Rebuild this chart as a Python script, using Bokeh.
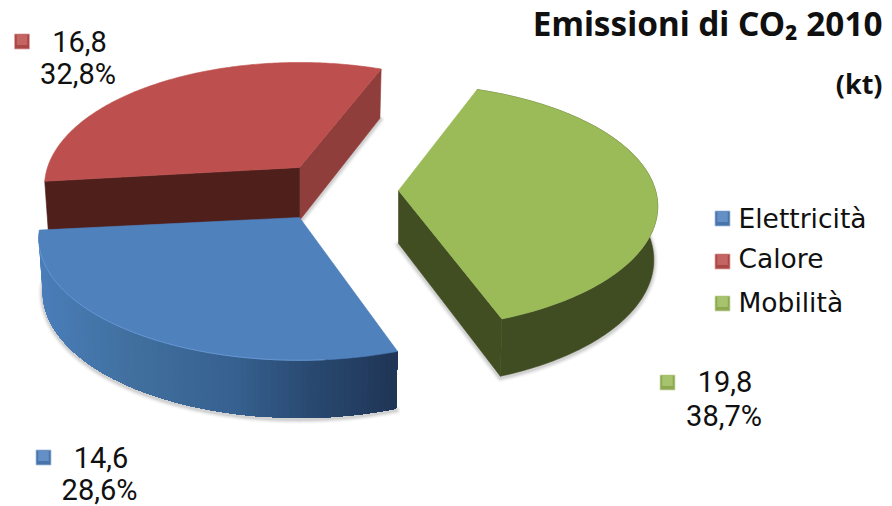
import numpy as np
from bokeh.core.properties import value
from bokeh.embed import file_html
from bokeh.models import Range1d
from bokeh.plotting import figure
from bokeh.resources import INLINE

# CO2 emissions by sector, 2010 (kt)
sectors = ["Elettricità", "Calore", "Mobilità"]
emissions = [14.6, 16.8, 19.8]
value_labels = ["14,6", "16,8", "19,8"]
share_labels = ["28,6%", "32,8%", "38,7%"]
title = "Emissioni di CO₂ 2010"
unit = "(kt)"

TOP = {"Elettricità": "#4f81bd", "Calore": "#bd504e", "Mobilità": "#9bbb59"}
LEGEND_FONT = "DejaVu Sans"
LABEL_FONT = "Roboto"
TITLE_FONT = "Noto Sans"

# Per-slice view of the pie plane: horizontal scale, vertical scale, foreshortening
VIEW = {"Elettricità": (257.0, 118.5, 0.17), "Calore": (252.0, 121.0, 0.152), "Mobilità": (257.0, 120.6, 0.13)}
THICK, KT, XSHRINK = 53.0, 0.08, 0.985

# Exploded apex of each slice in page pixels, and where each slice begins (degrees)
APEX = {"Elettricità": (299, 217), "Calore": (299, 167), "Mobilità": (398, 190)}
START = {"Elettricità": 186.0, "Calore": 68.3, "Mobilità": -69.3}

# Text placed with an alphabetic baseline sits this fraction of its size too low in SVG output
BASELINE_SHIFT = 0.38

p = figure(width=892, height=506, output_backend="svg", toolbar_location=None,
           x_axis_type=None, y_axis_type=None, min_border=0,
           x_range=Range1d(0, 892), y_range=Range1d(506, 0),
           background_fill_color="white", border_fill_color="white",
           outline_line_color=None)
p.grid.visible = False


def project(u, v, sector, lower=False):
    """Map a point of the unit pie plane to the page, on the top or the bottom face."""
    sx, sy, kp = VIEW[sector]
    ax, ay = APEX[sector]
    d = 1 + kp * v
    x = sx * u / d
    y = -sy * v / d
    if lower:
        x = x * XSHRINK
        y = y + THICK / (1 + KT * v)
    return ax + x, ay + y


def arc(a0, a1, sector, lower=False, n=160):
    t = np.radians(np.linspace(a0, a1, n))
    return project(np.cos(t), np.sin(t), sector, lower)


def mix(c0, c1, f):
    a = [int(c0[i:i + 2], 16) for i in (1, 3, 5)]
    b = [int(c1[i:i + 2], 16) for i in (1, 3, 5)]
    return "#%02x%02x%02x" % tuple(int(round(x + (y - x) * f)) for x, y in zip(a, b))


def ramp(stops, f):
    for (f0, c0), (f1, c1) in zip(stops, stops[1:]):
        if f <= f1:
            return mix(c0, c1, (f - f0) / (f1 - f0))
    return stops[-1][1]


def soft_edge(xs, ys):
    # Blurred drop shadow built from stacked translucent strokes
    for w, a in ((9, 0.03), (7, 0.05), (5, 0.07), (3, 0.10)):
        p.line(np.asarray(xs), np.asarray(ys) + 1.5, line_color="#404040",
               line_width=w, line_alpha=a, line_cap="round", line_join="round")


def rim_wall(a0, a1, sector, stops, n=90):
    # Each band reaches to the end of the rim, so the next one overlaps it and no seams show
    tx, ty = arc(a0, a1, sector, n=n + 1)
    bx, by = arc(a0, a1, sector, lower=True, n=n + 1)
    xmin, xmax = min(tx.min(), bx.min()), max(tx.max(), bx.max())
    for i in range(n):
        col = ramp(stops, (0.5 * (tx[i] + tx[i + 1]) - xmin) / (xmax - xmin))
        p.patch(np.r_[tx[i:], bx[i:][::-1]], np.r_[ty[i:], by[i:][::-1]],
                fill_color=col, line_color=None)


def flat_wall(a0, a1, sector, color):
    tx, ty = arc(a0, a1, sector)
    bx, by = arc(a0, a1, sector, lower=True)
    p.patch(np.r_[tx, bx[::-1]], np.r_[ty, by[::-1]], fill_color=color, line_color=color, line_width=0.6)


def cut_wall(angle, sector, color):
    t = np.radians(angle)
    ex, ey = project(np.cos(t), np.sin(t), sector)
    fx, fy = project(np.cos(t), np.sin(t), sector, lower=True)
    ax, ay = project(0.0, 0.0, sector)
    gx, gy = project(0.0, 0.0, sector, lower=True)
    p.patch([ax, ex, fx, gx], [ay, ey, fy, gy], fill_color=color, line_color=color, line_width=0.6)


def top_face(a0, a1, sector):
    x, y = arc(a0, a1, sector)
    ax, ay = APEX[sector]
    c = TOP[sector]
    p.patch(np.r_[ax, x], np.r_[ay, y], fill_color=c, line_color=c, line_width=0.6)


# Slice spans follow the emission totals, counter-clockwise from each start angle
total = sum(emissions)
span = {s: (START[s], START[s] + e / total * 360.0) for s, e in zip(sectors, emissions)}


def lower_corner(angle, sector):
    t = np.radians(angle)
    return project(np.cos(t), np.sin(t), sector, lower=True)


# Calore slice: only its two cut faces show from this viewpoint
a0, a1 = span["Calore"]
x0, y0 = project(0.0, 0.0, "Calore", lower=True)
x1, y1 = lower_corner(a0, "Calore")
soft_edge([x0, x1], [y0, y1])
cut_wall(a0, "Calore", "#8f3e3b")
cut_wall(a1, "Calore", "#4f1f1c")
top_face(a0, a1, "Calore")

# Mobilità slice
a0, a1 = span["Mobilità"]
x0, y0 = project(0.0, 0.0, "Mobilità", lower=True)
bx, by = arc(a1, a0, "Mobilità", lower=True)
soft_edge(np.r_[bx, x0], np.r_[by, y0])
flat_wall(a0, a1, "Mobilità", "#404c21")
cut_wall(a0, "Mobilità", "#414e22")
top_face(a0, a1, "Mobilità")

# Elettricità slice, with its light highlight along the rim
a0, a1 = span["Elettricità"]
bx, by = arc(a0, a1, "Elettricità", lower=True)
soft_edge(bx, by)
rim_wall(a0, a1, "Elettricità",
         [(0.0, "#4a7eba"), (0.25, "#41709f"), (0.55, "#36608f"), (0.75, "#294a72"), (1.0, "#1f3555")])
top_face(a0, a1, "Elettricità")
rx, ry = arc(a0 + 8, a1 - 14, "Elettricità")
p.line(rx, ry, line_color="#6f9fdc", line_width=1.0, line_alpha=0.8)


def label(x, y, text, font, size, style="normal", align="left"):
    p.text([x], [y - BASELINE_SHIFT * size], text=[text], text_font=value(font), text_font_size=f"{size}px",
           text_font_style=style, text_color="#101010", text_align=align, text_baseline="alphabetic")


def swatch(x, y, sector, size=15):
    c = TOP[sector]
    p.scatter([x], [y], marker="square", size=size, fill_color=mix(c, "#000000", 0.10),
              line_color=mix(c, "#ffffff", 0.5), line_width=0.8)
    p.scatter([x], [y - size * 0.12], marker="square", size=size * 0.7,
              fill_color=mix(c, "#ffffff", 0.12), line_color=None)


label(882, 35, title, TITLE_FONT, 33.3, style="bold", align="right")
label(882, 93, unit, TITLE_FONT, 27, style="bold", align="right")

for sector, ly, sy in zip(sectors, (228, 268, 312), (218, 261, 303)):
    swatch(722, sy, sector)
    label(738, ly, sector, LEGEND_FONT, 26.5)

label_places = {
    "Calore": ((21.5, 41), 79, 52, 77.5, 85),
    "Mobilità": ((667, 382), 724.5, 392, 723.5, 427),
    "Elettricità": ((43, 457), 100.5, 468, 99, 501),
}
for sector, vtext, stext in zip(sectors, value_labels, share_labels):
    sw, vx, vy, sx, sy = label_places[sector]
    swatch(sw[0], sw[1], sector)
    label(vx, vy, vtext, LABEL_FONT, 29, align="center")
    label(sx, sy, stext, LABEL_FONT, 29, align="center")

open("out.html", "w").write(file_html(p, INLINE))
